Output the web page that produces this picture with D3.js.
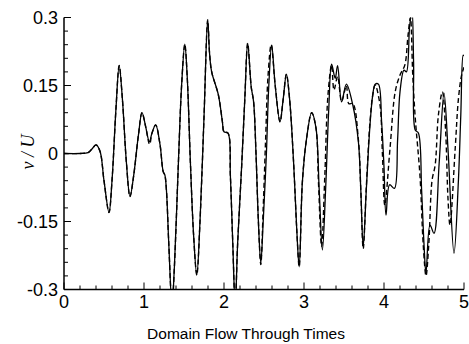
<!DOCTYPE html>
<html><head><meta charset="utf-8">
<script src="https://cdn.jsdelivr.net/npm/d3@7"></script>
<style>body{margin:0;background:#fff}svg{display:block}</style>
</head><body>
<script>
// Solid series (time, v/U)
const solidT = [0,0.2,0.3,0.35,0.4,0.45,0.5,0.5625,0.6,0.65,0.69,0.73,0.78,0.825,0.87,0.93,0.975,1.02,1.067,1.1,1.146,1.2,1.24,1.26,1.28,1.31,1.35,1.38,1.43,1.47,1.51,1.54,1.58,1.62,1.66,1.7,1.75,1.796,1.82,1.846,1.93,1.98,2.0,2.05,2.08,2.11,2.14,2.17,2.22,2.26,2.296,2.34,2.37,2.4,2.43,2.46,2.49,2.53,2.56,2.596,2.64,2.7,2.74,2.78,2.82,2.87,2.91,2.94,2.98,3.03,3.096,3.15,3.19,3.23,3.27,3.31,3.345,3.39,3.42,3.47,3.53,3.61,3.68,3.71,3.74,3.78,3.825,3.86,3.89,3.93,3.97,4.0,4.025,4.07,4.13,4.17,4.2,4.25,4.28,4.32,4.35,4.37,4.39,4.43,4.47,4.5,4.525,4.575,4.625,4.69,4.75,4.8,4.875,4.93,4.96,4.99,5.0];
const solidV = [0,0,0.002,0.01,0.019,0.005,-0.06,-0.13,-0.06,0.1,0.194,0.12,-0.02,-0.095,-0.05,0.04,0.09,0.06,0.026,0.045,0.063,0.02,-0.04,-0.047,-0.08,-0.2,-0.335,-0.25,-0.02,0.15,0.241,0.17,-0.02,-0.18,-0.268,-0.15,0.08,0.2945,0.22,0.18,0.129,0.07,0.048,0.045,-0.05,-0.2,-0.335,-0.2,-0.03,0.12,0.243,0.147,0.114,0.0,-0.15,-0.242,-0.15,0.0,0.15,0.239,0.15,0.07,0.12,0.175,0.12,-0.02,-0.17,-0.25,-0.062,0.03,0.09,0.056,-0.08,-0.213,-0.08,0.1,0.197,0.166,0.194,0.114,0.153,0.107,0.026,-0.08,-0.206,-0.076,0.063,0.13,0.153,0.153,0.07,-0.03,-0.136,-0.069,-0.077,0.03,0.136,0.184,0.18,0.28,0.315,0.2,0.052,0.045,-0.08,-0.2,-0.264,-0.158,-0.176,-0.02,0.133,0.01,-0.22,-0.06,0.085,0.217,0.215];

// Dashed series (time, v/U)
const dashT = [0,0.2,0.3,0.35,0.4,0.45,0.5,0.5625,0.6,0.65,0.69,0.73,0.78,0.825,0.87,0.93,0.975,1.02,1.07,1.1,1.146,1.2,1.24,1.26,1.28,1.31,1.35,1.38,1.43,1.47,1.51,1.54,1.58,1.62,1.66,1.7,1.75,1.796,1.82,1.846,1.93,1.98,2.0,2.05,2.08,2.11,2.14,2.17,2.22,2.26,2.296,2.34,2.37,2.4,2.43,2.46,2.49,2.52,2.55,2.59,2.64,2.7,2.74,2.78,2.82,2.87,2.91,2.94,2.98,3.03,3.096,3.15,3.18,3.22,3.26,3.3,3.345,3.375,3.42,3.47,3.53,3.56,3.61,3.68,3.71,3.74,3.78,3.825,3.86,3.89,3.95,3.98,4.01,4.075,4.14,4.2,4.26,4.3,4.33,4.36,4.39,4.45,4.49,4.525,4.56,4.6,4.64,4.68,4.73,4.77,4.8,4.825,4.89,4.93,4.97,5.0];
const dashV = [0,0,0.002,0.01,0.019,0.005,-0.06,-0.13,-0.06,0.1,0.194,0.12,-0.02,-0.095,-0.05,0.04,0.09,0.06,0.02,0.045,0.063,0.02,-0.04,-0.047,-0.08,-0.2,-0.335,-0.25,-0.02,0.15,0.241,0.17,-0.02,-0.18,-0.268,-0.15,0.08,0.2945,0.22,0.18,0.129,0.07,0.048,0.045,-0.05,-0.2,-0.335,-0.2,-0.03,0.12,0.243,0.147,0.114,0.0,-0.15,-0.245,-0.12,0.03,0.17,0.24,0.15,0.07,0.12,0.175,0.12,-0.02,-0.17,-0.25,-0.062,0.03,0.09,0.056,-0.06,-0.205,-0.05,0.13,0.195,0.14,0.17,0.115,0.15,0.11,0.11,0.03,-0.08,-0.21,-0.07,0.07,0.13,0.151,0.107,0.0,-0.114,0.011,0.136,0.173,0.195,0.26,0.3,0.17,0.08,-0.05,-0.2,-0.27,-0.2,-0.06,-0.025,0.085,0.136,0.05,-0.1,-0.158,0.011,0.12,0.173,0.19];

const xTicks = [0,1,2,3,4,5];
const yTicks = [-0.3,-0.15,0,0.15,0.3];
const yTickLabels = ["-0.3","-0.15","0","0.15","0.3"];
const xTitle = "Domain Flow Through Times";

const W = 469, H = 344;
const svg = d3.select("body").append("svg").attr("width", W).attr("height", H);
const x = d3.scaleLinear().domain([0,5]).range([64,464]);
const y = d3.scaleLinear().domain([-0.3,0.3]).range([289.5,17.5]);

svg.append("clipPath").attr("id","clip").append("rect")
  .attr("x",64).attr("y",17.5).attr("width",400).attr("height",272);

const line = d3.line().x(d=>x(d[0])).y(d=>y(d[1])).curve(d3.curveCatmullRom.alpha(0.5));
const solid = solidT.map((t,i)=>[t,solidV[i]]);
const dashed = dashT.map((t,i)=>[t,dashV[i]]);

const g = svg.append("g").attr("clip-path","url(#clip)");
g.append("path").attr("d",line(dashed)).attr("fill","none").attr("stroke","#000")
  .attr("stroke-width",1.4).attr("stroke-dasharray","5,3");
g.append("path").attr("d",line(solid)).attr("fill","none").attr("stroke","#000")
  .attr("stroke-width",1.3);

// Axes
const font = "'Liberation Sans', Arial, Helvetica, sans-serif";
const xAxis = svg.append("g").attr("transform","translate(0,289.5)");
xAxis.append("line").attr("x1",64).attr("x2",464).attr("stroke","#000").attr("stroke-width",1.5);
d3.range(0,5.0001,0.2).forEach(v=>{
  const major = Math.abs(v-Math.round(v))<1e-6;
  xAxis.append("line").attr("x1",x(v)).attr("x2",x(v)).attr("y1",0).attr("y2",major?-7:-4)
    .attr("stroke","#000").attr("stroke-width",1);
});
xTicks.forEach(v=>{
  xAxis.append("text").attr("x",x(v)).attr("y",18).attr("text-anchor","middle")
    .attr("font-family",font).attr("font-size",18).text(String(v));
});
const yAxis = svg.append("g").attr("transform","translate(64,0)");
yAxis.append("line").attr("y1",17.5).attr("y2",289.5).attr("stroke","#000").attr("stroke-width",1.5);
d3.range(-0.3,0.30001,0.03).forEach(v=>{
  const major = Math.abs(v/0.15-Math.round(v/0.15))<1e-6;
  yAxis.append("line").attr("x1",0).attr("x2",major?7:4).attr("y1",y(v)).attr("y2",y(v))
    .attr("stroke","#000").attr("stroke-width",1);
});
yTicks.forEach((v,i)=>{
  yAxis.append("text").attr("x",-6).attr("y",y(v)).attr("dy","0.36em").attr("text-anchor","end")
    .attr("font-family",font).attr("font-size",18).text(yTickLabels[i]);
});

svg.append("text").attr("x",246).attr("y",339).attr("text-anchor","middle")
  .attr("font-family",font).attr("font-size",15.5).text(xTitle);
svg.append("text").attr("transform","translate(34,152) rotate(-90)").attr("text-anchor","middle")
  .attr("font-family","'Liberation Serif', 'Times New Roman', serif").attr("font-style","italic")
  .attr("font-size",18).text("v / U");
</script>
</body></html>
